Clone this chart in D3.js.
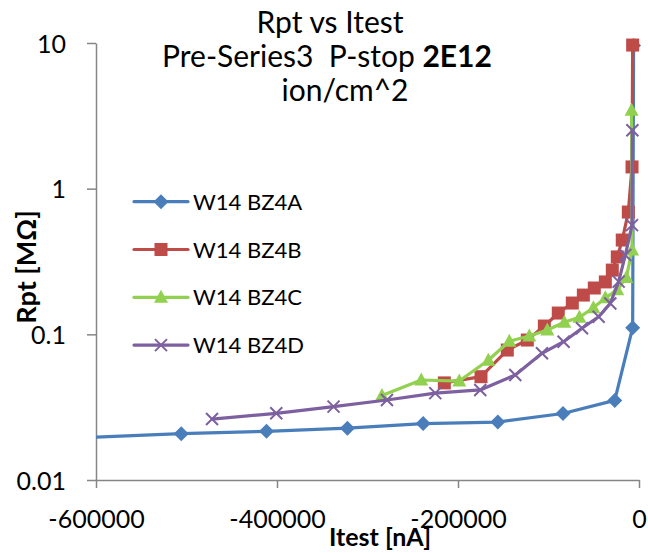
<!DOCTYPE html>
<html>
<head>
<meta charset="utf-8">
<script src="https://cdn.jsdelivr.net/npm/d3@7"></script>
<style>
  body { margin: 0; background: #fff; }
  text { font-family: Lato, "Open Sans", sans-serif; fill: #000; }
</style>
</head>
<body>
<div id="chart"></div>
<script>
// series (Itest in nA, Rpt in MOhm)
const seriesNames = ["W14 BZ4A", "W14 BZ4B", "W14 BZ4C", "W14 BZ4D"];
const seriesColors = ["#4a7ebb", "#be4b48", "#92d050", "#7d60a0"];
const seriesMarkers = ["diamond", "square", "triangle", "cross"];

const itestA = [-680000, -505800, -411600, -322200, -238500, -156000, -84000, -26800, -7000, -6000];
const rptA   = [0.0188, 0.0208, 0.0216, 0.0227, 0.0244, 0.0250, 0.0286, 0.0352, 0.111, 9.62];

const itestB = [-215100, -174600, -145500, -123400, -104600, -89200, -73700, -61500, -49400, -37200, -29500, -24000, -18500, -11800, -7700, -7000];
const rptB   = [0.0464, 0.0512, 0.078, 0.0914, 0.114, 0.140, 0.164, 0.186, 0.208, 0.229, 0.276, 0.340, 0.444, 0.691, 1.41, 9.68];

const itestC = [-284000, -240600, -198600, -166500, -143300, -121200, -101300, -82500, -65900, -50400, -37200, -24000, -14000, -7600, -8200];
const rptC   = [0.038, 0.0486, 0.0478, 0.0664, 0.0897, 0.0973, 0.107, 0.121, 0.131, 0.152, 0.178, 0.202, 0.246, 0.38, 3.46];

const itestD = [-471800, -400800, -337500, -278500, -225100, -175400, -136700, -107200, -83300, -63000, -44600, -31700, -22500, -15100, -7700, -7300];
const rptD   = [0.0262, 0.0287, 0.0319, 0.0354, 0.0395, 0.0415, 0.0526, 0.0741, 0.089, 0.110, 0.132, 0.163, 0.230, 0.350, 0.562, 2.52];

const xTicks = [-600000, -400000, -200000, 0];
const yTicks = [0.01, 0.1, 1, 10];

const W = 648, H = 553;
const plot = { left: 96, right: 639, top: 43, bottom: 480 };

const svg = d3.select("#chart").append("svg").attr("width", W).attr("height", H);

const x = d3.scaleLinear().domain([-600000, 0]).range([plot.left, plot.right]);
const y = d3.scaleLog().domain([0.01, 10]).range([plot.bottom, plot.top]);

// axes
const axisColor = "#868686";
const xAxis = svg.append("g")
  .attr("transform", "translate(0," + plot.bottom + ")")
  .call(d3.axisBottom(x).tickValues(xTicks).tickFormat(d => String(d)).tickSize(8).tickPadding(22).tickSizeOuter(0));
const yAxis = svg.append("g")
  .attr("transform", "translate(" + plot.left + ",0)")
  .call(d3.axisLeft(y).tickValues(yTicks).tickFormat(d => String(d)).tickSize(9).tickPadding(21).tickSizeOuter(0));
[xAxis, yAxis].forEach(g => {
  g.select(".domain").attr("stroke", axisColor).attr("stroke-width", 1.5);
  g.selectAll(".tick line").attr("stroke", axisColor).attr("stroke-width", 1.5);
  g.selectAll(".tick text").style("font-family", "Lato").style("font-size", "25px").attr("fill", "#000");
});
xAxis.selectAll(".tick text").attr("dy", "0.71em");
yAxis.selectAll(".tick text").attr("dy", "0.36em");

// clip data to the plot area
svg.append("clipPath").attr("id", "plotclip").append("rect")
  .attr("x", plot.left).attr("y", plot.top - 10)
  .attr("width", plot.right - plot.left + 10).attr("height", plot.bottom - plot.top + 10);

const seriesData = [
  d3.zip(itestA, rptA), d3.zip(itestB, rptB), d3.zip(itestC, rptC), d3.zip(itestD, rptD)
];

const line = d3.line().x(d => x(d[0])).y(d => y(d[1]));

function drawMarker(g, kind, color, cx, cy) {
  if (kind === "diamond") {
    g.append("path").attr("d", `M${cx},${cy - 7.5}L${cx + 7.5},${cy}L${cx},${cy + 7.5}L${cx - 7.5},${cy}Z`).attr("fill", color);
  } else if (kind === "square") {
    g.append("rect").attr("x", cx - 6.5).attr("y", cy - 6.5).attr("width", 13).attr("height", 13).attr("fill", color);
  } else if (kind === "triangle") {
    g.append("path").attr("d", `M${cx},${cy - 7.5}L${cx + 7},${cy + 5.5}L${cx - 7},${cy + 5.5}Z`).attr("fill", color);
  } else {
    g.append("path").attr("d", `M${cx - 6},${cy - 6}L${cx + 6},${cy + 6}M${cx + 6},${cy - 6}L${cx - 6},${cy + 6}`)
      .attr("stroke", color).attr("stroke-width", 2).attr("fill", "none");
  }
}

const dataLayer = svg.append("g").attr("clip-path", "url(#plotclip)");
seriesData.forEach((pts, i) => {
  const g = dataLayer.append("g");
  g.append("path").datum(pts).attr("d", line)
    .attr("fill", "none").attr("stroke", seriesColors[i]).attr("stroke-width", 3.2)
    .attr("stroke-linejoin", "round").attr("stroke-linecap", "round");
  pts.forEach(p => {
    if (p[0] >= -600000) drawMarker(g, seriesMarkers[i], seriesColors[i], x(p[0]), y(p[1]));
  });
});

// legend
const legend = svg.append("g");
seriesNames.forEach((name, i) => {
  const cy = 201.7 + i * 47.8;
  legend.append("line").attr("x1", 134).attr("x2", 188).attr("y1", cy).attr("y2", cy)
    .attr("stroke", seriesColors[i]).attr("stroke-width", 3.2).attr("stroke-linecap", "round");
  drawMarker(legend, seriesMarkers[i], seriesColors[i], 161, cy);
  legend.append("text").attr("x", 193).attr("y", cy + 8).style("font-size", "22px").text(name);
});

// title
const title = svg.append("g").style("font-size", "30px").attr("text-anchor", "middle");
title.append("text").attr("x", 330).attr("y", 33).text("Rpt vs Itest");
const t2 = title.append("text").attr("x", 327).attr("y", 67).style("white-space", "pre");
t2.append("tspan").text("Pre-Series3  P-stop ");
t2.append("tspan").style("font-weight", "bold").text("2E12");
title.append("text").attr("x", 345).attr("y", 101).text("ion/cm^2");

// axis titles
svg.append("text").attr("x", 380).attr("y", 546).attr("text-anchor", "middle")
  .style("font-size", "25px").style("font-weight", "bold").text("Itest [nA]");
svg.append("text").attr("transform", "translate(36,267) rotate(-90)").attr("text-anchor", "middle")
  .style("font-size", "27px").style("font-weight", "bold").text("Rpt [MΩ]");
</script>
</body>
</html>
